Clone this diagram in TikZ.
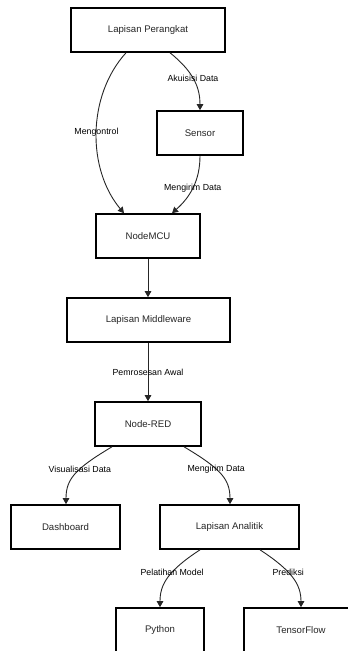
\documentclass[tikz,border=0pt]{standalone}
\usepackage{fontspec}
\setmainfont{Liberation Sans}
\usetikzlibrary{arrows.meta}
\begin{document}
\begin{tikzpicture}[x=1pt,y=-1pt,
  box/.style={draw=black,line width=1.6pt,fill=white,inner sep=0pt,
    font=\fontsize{9.6}{11}\selectfont,text=black!85},
  lbl/.style={font=\fontsize{8.8}{10}\selectfont,text=black,inner sep=0pt},
  conn/.style={draw=black!85,line width=0.9pt,-{Triangle[length=6pt,width=6.5pt]}}]
\useasboundingbox (0,0) rectangle (348,651);
\node[box,minimum width=154pt,minimum height=44pt] (per) at (148,30) {Lapisan Perangkat};
\node[box,minimum width=86pt,minimum height=44pt] (sen) at (200,133) {Sensor};
\node[box,minimum width=104pt,minimum height=44pt] (mcu) at (148,236) {NodeMCU};
\node[box,minimum width=163pt,minimum height=44pt] (mid) at (148.5,320) {Lapisan Middleware};
\node[box,minimum width=106pt,minimum height=44pt] (red) at (148,424) {Node-RED};
\node[box,minimum width=109pt,minimum height=44pt] (das) at (65.5,527) {Dashboard};
\node[box,minimum width=139pt,minimum height=44pt] (ana) at (229.5,527) {Lapisan Analitik};
\node[box,minimum width=88pt,minimum height=44pt] (py) at (160,630) {Python};
\node[box,minimum width=114pt,minimum height=44pt] (tf) at (301,630) {TensorFlow};

\draw[conn] ([xshift=22pt]per.south) .. controls +(25,20) and +(0,-21) .. (sen.north)
  node[lbl,pos=0.45] {Akuisisi Data};
\draw[conn] ([xshift=-22pt]per.south) .. controls +(-39,43) and +(-37,-44) .. ([xshift=-24pt]mcu.north)
  node[lbl,pos=0.5] {Mengontrol};
\draw[conn] (sen.south) .. controls +(0,25) and +(18,-16) .. ([xshift=24pt]mcu.north)
  node[lbl,pos=0.5] {Mengirim Data};
\draw[conn] (mcu.south) -- (mcu.south |- mid.north);
\draw[conn] (mcu.south |- mid.south) -- (mcu.south |- red.north)
  node[lbl,pos=0.5] {Pemrosesan Awal};
\draw[conn] ([xshift=-36pt]red.south) .. controls +(-37,22) and +(0,-25) .. ([xshift=0.5pt]das.north)
  node[lbl,pos=0.4] {Visualisasi Data};
\draw[conn] ([xshift=36pt]red.south) .. controls +(37,22) and +(0,-25) .. ([xshift=0.5pt]ana.north)
  node[lbl,pos=0.4] {Mengirim Data};
\draw[conn] ([xshift=-29.5pt]ana.south) .. controls +(-32,21) and +(0,-23) .. (py.north)
  node[lbl,pos=0.4] {Pelatihan Model};
\draw[conn] ([xshift=30.5pt]ana.south) .. controls +(32,21) and +(0,-23) .. (tf.north)
  node[lbl,pos=0.4] {Prediksi};
\end{tikzpicture}
\end{document}
